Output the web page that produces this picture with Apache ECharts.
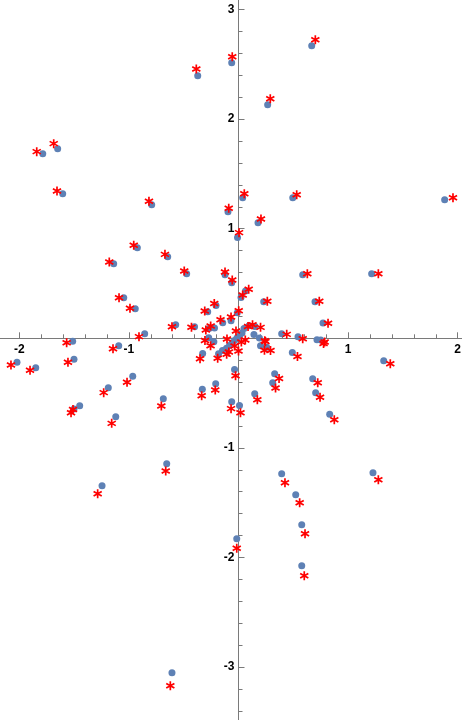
<!DOCTYPE html>
<html>
<head>
<meta charset="utf-8">
<script src="https://cdn.jsdelivr.net/npm/echarts@6/dist/echarts.min.js"></script>
<style>html,body{margin:0;padding:0;background:#fff;}#c{width:462px;height:720px;}</style>
</head>
<body>
<div id="c"></div>
<script>
// Blue points [x, y]
var bluePoints = [
  [-0.062,2.515],[-0.372,2.396],[-1.650,1.730],[-1.786,1.684],[-1.604,1.319],[-0.792,1.219],
  [-0.096,1.155],[-0.009,0.920],[0.668,2.670],[0.266,2.131],[0.038,1.283],[0.495,1.283],
  [0.178,1.055],[1.881,1.265],[-0.923,0.827],[-0.646,0.745],[-1.139,0.681],[-0.473,0.589],
  [-0.123,0.580],[-0.062,0.507],[-1.047,0.370],[-0.942,0.270],[-0.205,0.299],[-0.281,0.243],
  [-0.011,0.234],[-0.144,0.142],[-0.068,0.161],[-0.573,0.124],[-0.401,0.106],[-0.269,0.089],
  [-0.219,0.094],[-0.856,0.042],[-1.513,-0.027],[-1.093,-0.068],[-0.272,0.005],[-0.225,-0.032],
  [-2.021,-0.219],[-1.850,-0.268],[-1.501,-0.192],[-0.965,-0.347],[-1.188,-0.451],[-1.449,-0.615],
  [-1.501,-0.645],[-1.120,-0.715],[-0.686,-0.551],[-0.330,-0.465],[-0.208,-0.415],[-0.062,-0.578],
  [0.009,-0.613],[-0.036,-0.285],[-0.327,-0.139],[-0.182,-0.141],[-0.655,-1.144],[0.586,0.580],
  [1.215,0.589],[0.064,0.432],[0.023,0.372],[0.230,0.334],[0.698,0.334],[0.771,0.140],
  [0.394,0.042],[0.543,0.015],[0.716,-0.013],[0.750,-0.016],[1.325,-0.204],[0.491,-0.130],
  [0.330,-0.324],[0.312,-0.405],[0.677,-0.369],[0.704,-0.496],[0.832,-0.693],[0.148,-0.505],
  [-1.245,-1.345],[0.394,-1.235],[0.522,-1.427],[0.577,-1.701],[0.577,-2.075],[-0.016,-1.828],
  [1.227,-1.226],[-0.607,-3.051],[0.050,0.089],[0.096,0.114],[0.151,0.108],[0.141,0.035],
  [0.191,0.003],[0.201,-0.068],[0.257,-0.081],[-0.146,-0.111],[-0.109,-0.091],[-0.082,-0.066],
  [-0.059,-0.043],[-0.036,-0.020],[-0.014,0.003],[0.009,0.021],[0.032,0.048]
];
// Red asterisk points [x, y]
var redPoints = [
  [-0.057,2.569],[-0.385,2.457],[-1.686,1.776],[-1.841,1.703],[-1.656,1.344],[-0.817,1.250],
  [-0.089,1.186],[0.005,0.964],[0.701,2.724],[0.290,2.186],[0.053,1.319],[0.531,1.310],
  [0.205,1.088],[1.957,1.283],[-0.956,0.849],[-0.671,0.766],[-1.179,0.696],[-0.495,0.614],
  [-0.123,0.605],[-0.057,0.532],[-1.090,0.370],[-0.990,0.274],[-0.221,0.318],[-0.308,0.249],
  [0.002,0.251],[-0.164,0.169],[-0.068,0.194],[-0.607,0.106],[-0.429,0.101],[-0.298,0.076],
  [-0.254,0.112],[-0.908,0.015],[-1.568,-0.040],[-1.145,-0.095],[-0.306,-0.020],[-0.255,-0.068],
  [-2.076,-0.244],[-1.902,-0.292],[-1.556,-0.219],[-1.017,-0.401],[-1.230,-0.496],[-1.510,-0.650],
  [-1.528,-0.679],[-1.157,-0.776],[-0.704,-0.618],[-0.336,-0.524],[-0.212,-0.472],[-0.068,-0.642],
  [0.018,-0.679],[-0.027,-0.342],[-0.351,-0.186],[-0.190,-0.182],[-0.664,-1.211],[0.628,0.589],
  [1.276,0.589],[0.093,0.447],[0.038,0.395],[0.263,0.338],[0.737,0.338],[0.817,0.137],
  [0.440,0.036],[0.586,-0.004],[0.786,-0.034],[0.776,-0.047],[1.385,-0.232],[0.538,-0.166],
  [0.370,-0.367],[0.338,-0.453],[0.723,-0.405],[0.744,-0.538],[0.874,-0.743],[0.172,-0.560],
  [-1.285,-1.418],[0.424,-1.318],[0.558,-1.500],[0.607,-1.783],[0.600,-2.166],[-0.016,-1.916],
  [1.276,-1.290],[-0.622,-3.170],[0.087,0.108],[0.128,0.123],[0.201,0.100],[0.240,-0.022],
  [0.246,-0.030],[0.237,-0.109],[0.292,-0.111],[-0.108,-0.146],[-0.088,-0.125],[-0.036,-0.070],
  [0.000,-0.116],[0.026,-0.034],[0.062,-0.016],[-0.105,-0.006],[-0.023,0.067]
];
var xTickLabels = [-2, -1, 1, 2];
var yTickLabels = [-3, -2, -1, 1, 2, 3];

var asteriskPath = 'path://M-0.9 -5 L0.9 -5 L0.9 5 L-0.9 5 Z M-4.78 -1.721 L-3.88 -3.279 L4.78 1.721 L3.88 3.279 Z M3.88 -3.279 L4.78 -1.721 L-3.88 3.279 L-4.78 1.721 Z';

var chart = echarts.init(document.getElementById('c'), null, {renderer: 'canvas'});
var axisColor = '#7a7a7a';
var labelStyle = {color: '#000', fontSize: 12, fontWeight: 'bold', fontFamily: 'Liberation Sans, Arial, sans-serif'};
chart.setOption({
  animation: false,
  backgroundColor: '#fff',
  grid: {left: -90.3, right: -105.3, top: -100.1, bottom: -56.7, containLabel: false, outerBoundsMode: 'none'},
  xAxis: {
    type: 'value', min: -3, max: 3, interval: 1, position: 'bottom', offset: -438.4,
    axisLine: {onZero: false, lineStyle: {color: axisColor, width: 1}},
    axisTick: {show: true, inside: true, length: 6, lineStyle: {color: axisColor}},
    minorTick: {show: true, splitNumber: 5, length: 4, lineStyle: {color: axisColor}},
    splitLine: {show: false},
    axisLabel: Object.assign({margin: 5, formatter: function (v) { return xTickLabels.indexOf(v) >= 0 ? String(v) : ''; }}, labelStyle)
  },
  yAxis: {
    type: 'value', min: -4, max: 4, interval: 1, position: 'left', offset: -328.8,
    axisLine: {onZero: false, lineStyle: {color: axisColor, width: 1}},
    axisTick: {show: true, inside: true, length: 6, lineStyle: {color: axisColor}},
    minorTick: {show: true, splitNumber: 5, length: 4, lineStyle: {color: axisColor}},
    splitLine: {show: false},
    axisLabel: Object.assign({margin: 4, formatter: function (v) { return yTickLabels.indexOf(v) >= 0 ? String(v) : ''; }}, labelStyle)
  },
  series: [
    {
      type: 'scatter', data: bluePoints, symbol: 'circle', symbolSize: 7,
      itemStyle: {color: '#5E81B5', opacity: 1}, silent: true, z: 2
    },
    {
      type: 'scatter', data: redPoints, symbol: asteriskPath, symbolSize: [9, 9],
      itemStyle: {color: '#ff0000', opacity: 1}, silent: true, z: 3
    }
  ]
});
</script>
</body>
</html>
